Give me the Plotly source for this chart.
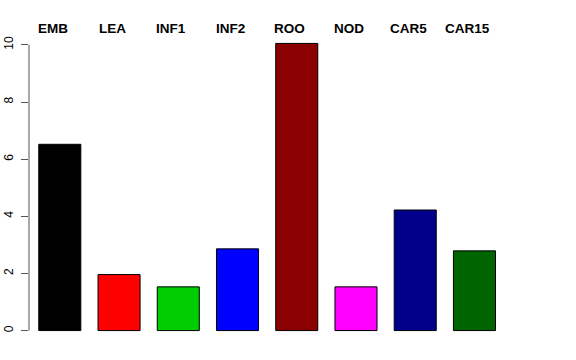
import plotly.graph_objects as go

categories = ["EMB", "LEA", "INF1", "INF2", "ROO", "NOD", "CAR5", "CAR15"]
values = [6.52, 1.96, 1.53, 2.86, 10.05, 1.53, 4.22, 2.79]
colors = ["#000000", "#FF0000", "#00CD00", "#0000FF", "#8B0000", "#FF00FF", "#00008B", "#006400"]
y_ticks = [0, 2, 4, 6, 8, 10]

positions = list(range(len(categories)))

fig = go.Figure()
fig.add_trace(go.Bar(
    x=positions, y=values, width=0.71,
    marker=dict(color=colors, line=dict(color="#000000", width=1)),
    hoverinfo="skip",
))

for p, c in zip(positions, categories):
    fig.add_annotation(x=p, y=1, xref="x", yref="paper", text="<b>%s</b>" % c,
                       showarrow=False, xshift=-7, yshift=-6, yanchor="bottom",
                       font=dict(family="Liberation Sans, Arial, sans-serif", size=13.5, color="#000000"))

# R-style axis line spanning the tick range only
fig.add_shape(type="line", xref="paper", yref="y", x0=0, x1=0,
              y0=min(y_ticks), y1=max(y_ticks), line=dict(color="#555555", width=1))

fig.update_layout(
    width=576, height=360,
    margin=dict(l=29, r=66, t=32, b=17.5, pad=0, autoexpand=False),
    paper_bgcolor="white", plot_bgcolor="white",
    showlegend=False,
    font=dict(family="Liberation Sans, Arial, sans-serif", size=12, color="#000000"),
    xaxis=dict(range=[-0.52, 7.6], showticklabels=False, showgrid=False, zeroline=False,
               showline=False, ticks="", automargin=False),
    yaxis=dict(range=[-0.4, 10.45], tickvals=y_ticks, ticktext=[str(t) for t in y_ticks],
               tickangle=-90, ticks="outside", ticklen=7, tickwidth=1, tickcolor="#555555",
               ticklabelstandoff=3,
               showgrid=False, zeroline=False, showline=False, automargin=False,
               tickfont=dict(size=12, color="#000000")),
)

fig.write_html("out.html", config={"displayModeBar": False},
               post_script="document.body.style.margin='0';")
